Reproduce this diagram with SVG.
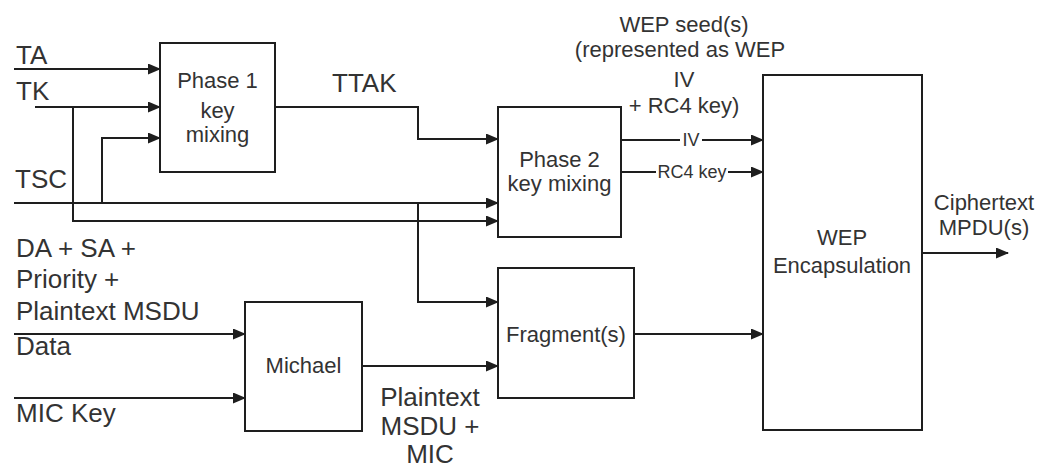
<svg xmlns="http://www.w3.org/2000/svg" width="1041" height="468" viewBox="0 0 1041 468">
  <style>
    .box { fill: #ffffff; stroke: #1e1e1e; stroke-width: 2; }
    .ln { fill: none; stroke: #1e1e1e; stroke-width: 2; }
    .arr { marker-end: url(#ah); }
    text { font-family: "Liberation Sans", Arial, sans-serif; fill: #333333; }
    .big { font-size: 26px; }
    .mid { font-size: 22px; }
    .sm { font-size: 18px; }
    .c { text-anchor: middle; }
  </style>
  <defs>
    <marker id="ah" markerUnits="userSpaceOnUse" markerWidth="13" markerHeight="11" refX="12" refY="5.5" orient="auto">
      <path d="M0,0 L13,5.5 L0,11 z" fill="#1e1e1e"/>
    </marker>
  </defs>
  <rect width="1041" height="468" fill="#ffffff"/>

  <g id="connectors">
    <path class="ln arr" d="M14,69 H160"/>
    <path class="ln arr" d="M35,107 H160"/>
    <path class="ln arr" d="M73,107 V221 H498"/>
    <path class="ln arr" d="M14,203 H498"/>
    <path class="ln arr" d="M102,203 V138 H160"/>
    <path class="ln arr" d="M418,203 V302 H498"/>
    <path class="ln arr" d="M275,107 H418 V139 H498"/>
    <path class="ln arr" d="M621,140 H763"/>
    <path class="ln arr" d="M621,172 H763"/>
    <path class="ln arr" d="M634,334 H763"/>
    <path class="ln arr" d="M922,253 H1008"/>
    <path class="ln arr" d="M14,334 H245"/>
    <path class="ln arr" d="M14,398 H245"/>
    <path class="ln arr" d="M362,366 H498"/>
    <rect x="680" y="130" width="22" height="20" fill="#ffffff"/>
    <text class="sm c" x="691" y="146">IV</text>
    <rect x="656" y="162" width="72" height="20" fill="#ffffff"/>
    <text class="sm c" x="692" y="178">RC4 key</text>
  </g>

  <g id="phase1">
    <rect class="box" x="160" y="43" width="115" height="129"/>
    <text class="mid c" x="217.5" y="88">Phase 1</text>
    <text class="mid c" x="217.5" y="118">key</text>
    <text class="mid c" x="217.5" y="142">mixing</text>
  </g>

  <g id="phase2">
    <rect class="box" x="498" y="107" width="123" height="130"/>
    <text class="mid c" x="559.5" y="167">Phase 2</text>
    <text class="mid c" x="559.5" y="191">key mixing</text>
  </g>

  <g id="fragment">
    <rect class="box" x="498" y="268" width="136" height="130"/>
    <text class="mid c" x="566" y="342">Fragment(s)</text>
  </g>

  <g id="michael">
    <rect class="box" x="245" y="302" width="117" height="129"/>
    <text class="mid c" x="303.5" y="373">Michael</text>
  </g>

  <g id="wep">
    <rect class="box" x="763" y="75" width="159" height="355"/>
    <text class="mid c" x="842" y="245">WEP</text>
    <text class="mid c" x="842" y="273">Encapsulation</text>
  </g>

  <g id="labels">
    <text class="big" x="16" y="64">TA</text>
    <text class="big" x="16" y="100">TK</text>
    <text class="big" x="15" y="188">TSC</text>
    <text class="big" x="332" y="92">TTAK</text>
    <text class="big" x="16" y="257">DA + SA +</text>
    <text class="big" x="16" y="288">Priority +</text>
    <text class="big" x="16" y="320">Plaintext MSDU</text>
    <text class="big" x="16" y="355">Data</text>
    <text class="big" x="16" y="422">MIC Key</text>
    <text class="big c" x="430" y="406">Plaintext</text>
    <text class="big c" x="430" y="435">MSDU +</text>
    <text class="big c" x="430" y="463">MIC</text>
    <text class="mid c" x="684" y="32">WEP seed(s)</text>
    <text class="mid c" x="680" y="57">(represented as WEP</text>
    <text class="mid c" x="684" y="87">IV</text>
    <text class="mid c" x="684" y="113">+ RC4 key)</text>
    <text class="mid c" x="984" y="210">Ciphertext</text>
    <text class="mid c" x="984" y="235">MPDU(s)</text>
  </g>
</svg>
